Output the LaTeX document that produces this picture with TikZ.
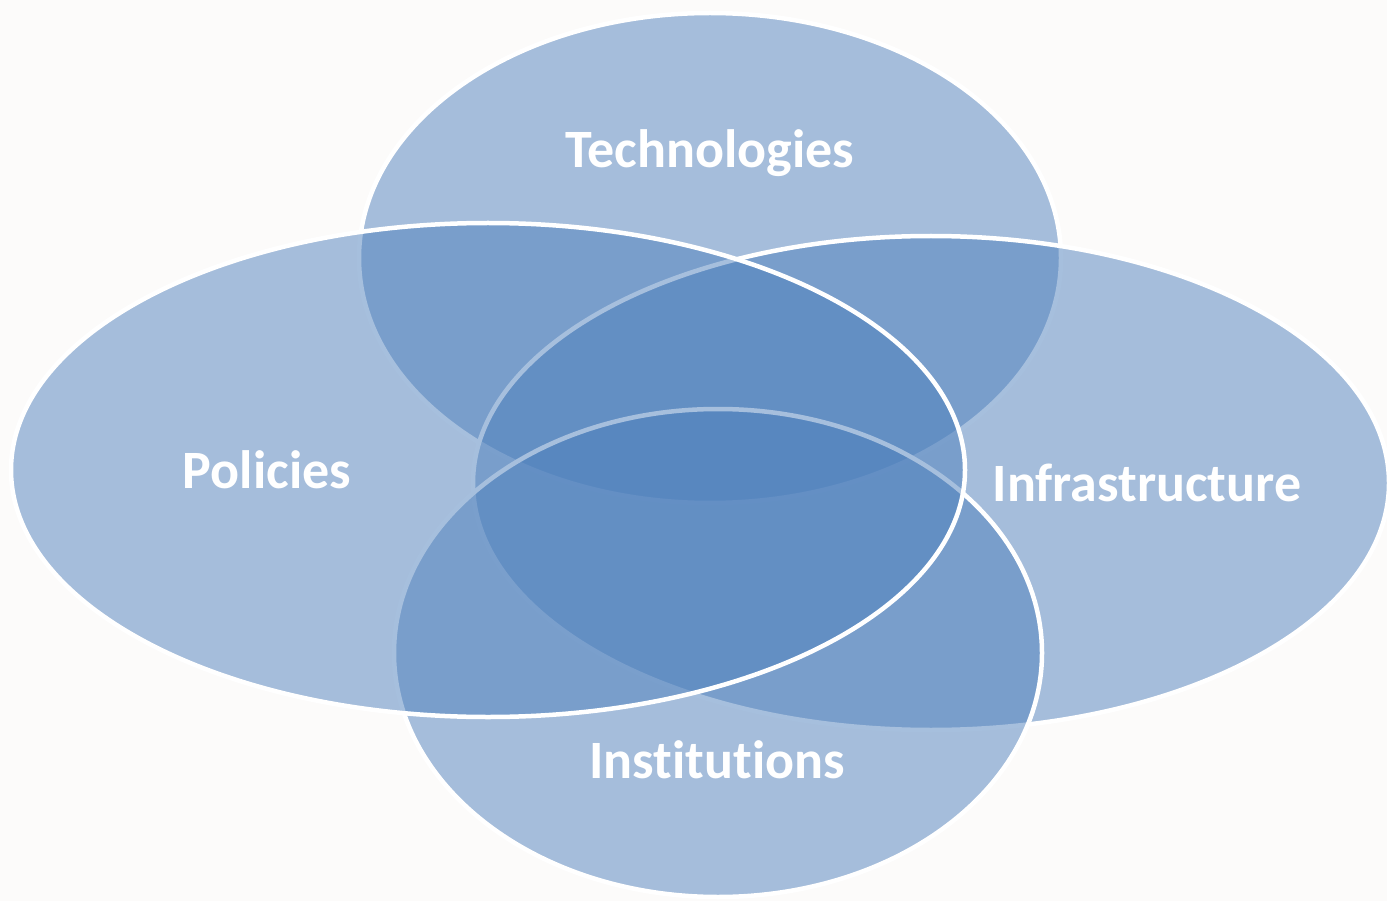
\documentclass[tikz,border=0pt]{standalone}
\usepackage{fontspec}
\setmainfont{Carlito}[Ligatures=NoCommon]
\usetikzlibrary{shapes.geometric}
\definecolor{bgcol}{HTML}{FCFBFA}
\definecolor{setblue}{HTML}{4F81BD}
\begin{document}
\begin{tikzpicture}[x=1pt,y=-1pt,
  setshape/.style={ellipse, inner sep=0pt, draw=white, line width=4.5pt,
    fill=setblue, fill opacity=0.5, draw opacity=1},
  setlabel/.style={text=white, font=\fontsize{54}{60}\selectfont\bfseries, inner sep=0pt}]
  \fill[bgcol] (0,0) rectangle (1387,901);
  \useasboundingbox (0,0) rectangle (1387,901);
  \begin{scope}
    \clip (0,0) rectangle (1387,901);
    % overlapping sets, back to front
    \node[setshape, minimum width=702pt, minimum height=490pt] (tech)  at (710,258) {};
    \node[setshape, minimum width=916pt, minimum height=494pt] (infra) at (931,483) {};
    \node[setshape, minimum width=648pt, minimum height=488pt] (inst)  at (718,653) {};
    \node[setshape, minimum width=954pt, minimum height=494pt] (pol)   at (488,470) {};
  \end{scope}
  % set names
  \node[setlabel] (techlbl)  at (710,153) {Technologies};
  \node[setlabel] (pollbl)   at (267,470) {Policies};
  \node[setlabel] (infralbl) at (1147,483) {Infrastructure};
  \node[setlabel] (instlbl)  at (717,760) {Institutions};
\end{tikzpicture}
\end{document}
